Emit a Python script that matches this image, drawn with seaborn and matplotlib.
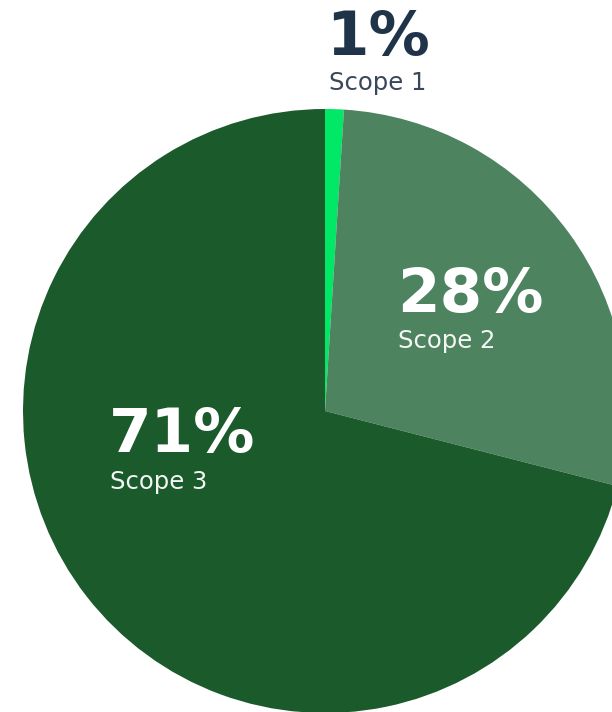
import matplotlib
matplotlib.use("Agg")
import matplotlib.pyplot as plt
import seaborn as sns

# Emissions share by scope
scopes = ["Scope 1", "Scope 2", "Scope 3"]
shares = [1, 28, 71]
slice_colors = ["#00e865", "#4e8360", "#1a5a2b"]

sns.set_theme(style="white")
plt.rcParams["font.family"] = ["DejaVu Sans"]

W, H = 612, 712
fig = plt.figure(figsize=(W / 100, H / 100), dpi=100)
ax = fig.add_axes([0, 0, 1, 1])

# Pie starts at 12 o'clock and runs clockwise
ax.pie(shares, colors=slice_colors, startangle=90, counterclock=False,
       center=(325, 301), radius=302, frame=True,
       wedgeprops=dict(linewidth=0))
ax.set_xlim(0, W)
ax.set_ylim(0, H)
ax.set_aspect("equal")
ax.axis("off")

# Labels: (x, value baseline, name baseline, align, value colour, name colour)
label_layout = {
    "Scope 1": (378, 657, 622, "center", "#1f3349", "#3a475a"),
    "Scope 2": (397, 400, 364, "left", "white", "#f4f6f4"),
    "Scope 3": (109, 260, 223, "left", "white", "#f4f6f4"),
}

for name, share in zip(scopes, shares):
    x, yv, yn, ha, cv, cn = label_layout[name]
    ax.text(x, yv, f"{share}%", ha=ha, va="baseline", fontsize=44,
            fontweight="bold", color=cv)
    ax.text(x + (1 if ha == "left" else 0), yn, name, ha=ha, va="baseline",
            fontsize=17.5, color=cn)

fig.savefig("out.png", dpi=100)
